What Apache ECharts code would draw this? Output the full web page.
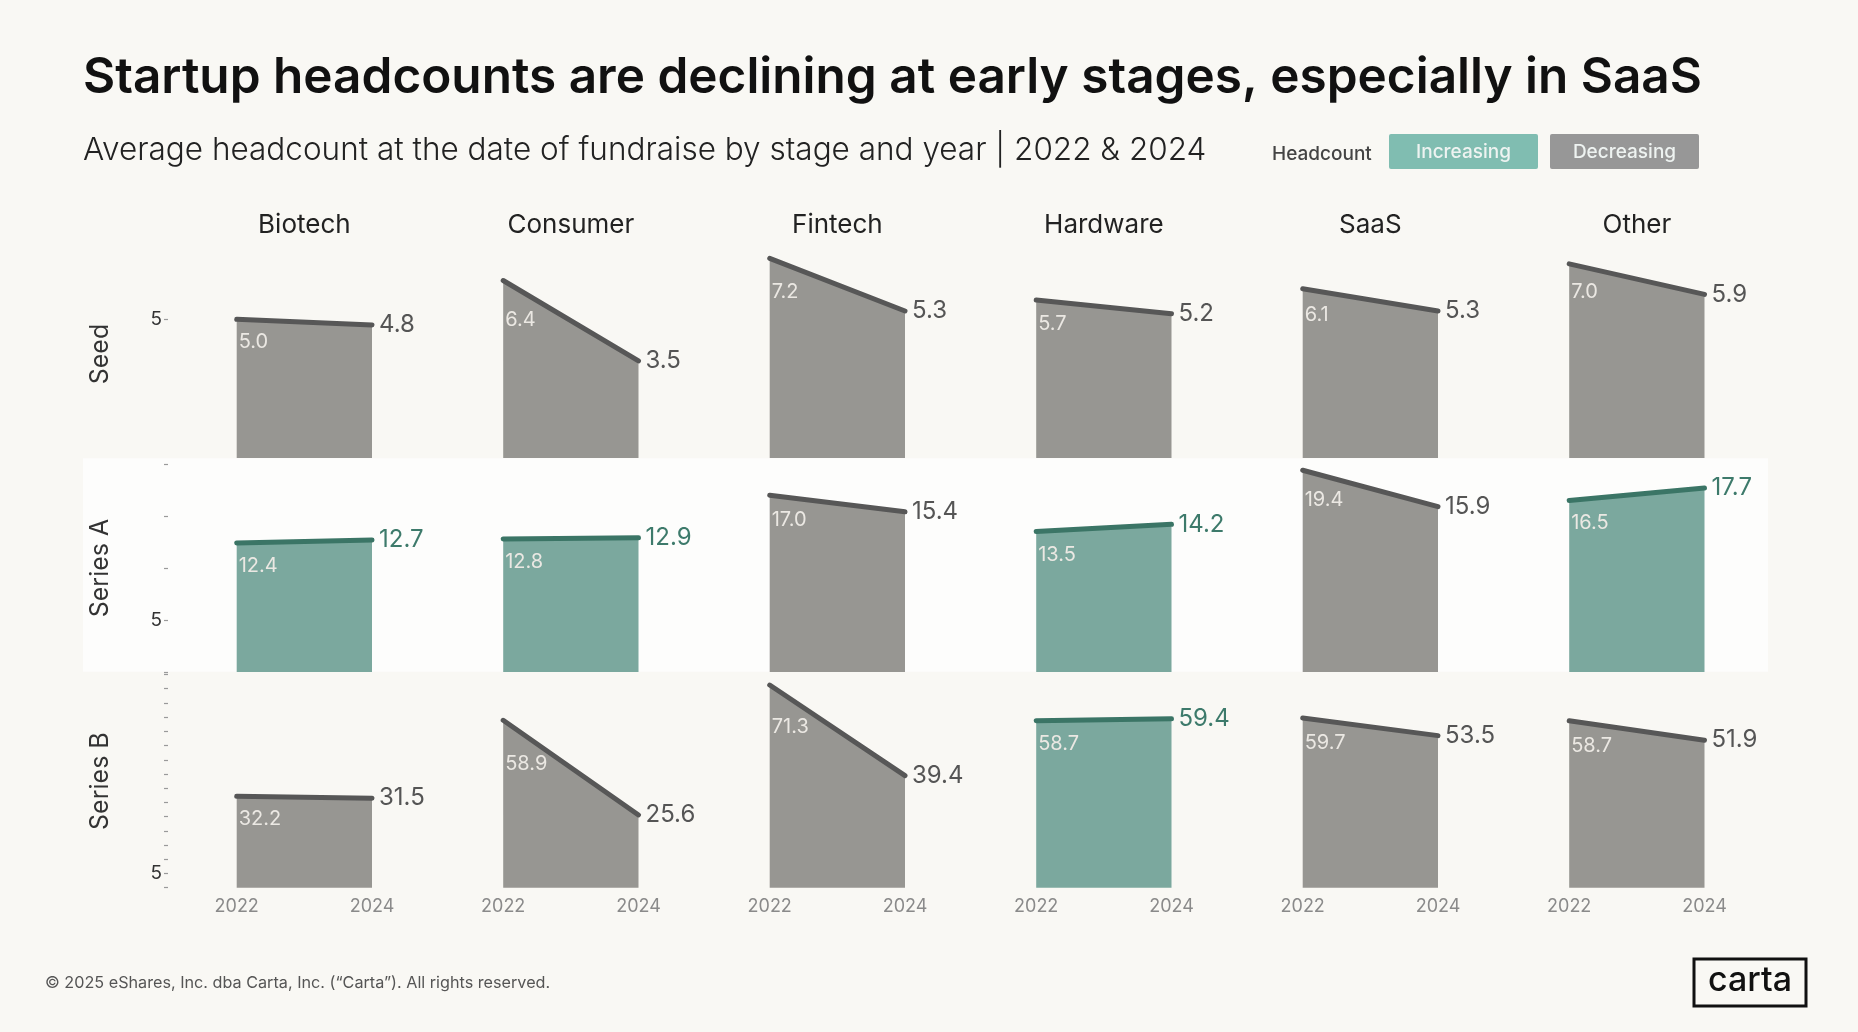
<!DOCTYPE html>
<html>
<head>
<meta charset="utf-8">
<script src="https://cdn.jsdelivr.net/npm/echarts@6/dist/echarts.min.js"></script>
<style>
  html, body { margin: 0; padding: 0; background: #f9f8f4; }
  #chart { width: 1858px; height: 1032px; }
</style>
</head>
<body>
<div id="chart"></div>
<script>
// data
const sectors = ['Biotech', 'Consumer', 'Fintech', 'Hardware', 'SaaS', 'Other'];
const stages = ['Seed', 'Series A', 'Series B'];
const years = ['2022', '2024'];
const seed2022 = [5.0, 6.4, 7.2, 5.7, 6.1, 7.0];
const seed2024 = [4.8, 3.5, 5.3, 5.2, 5.3, 5.9];
const seriesA2022 = [12.4, 12.8, 17.0, 13.5, 19.4, 16.5];
const seriesA2024 = [12.7, 12.9, 15.4, 14.2, 15.9, 17.7];
const seriesB2022 = [32.2, 58.9, 71.3, 58.7, 59.7, 58.7];
const seriesB2024 = [31.5, 25.6, 39.4, 59.4, 53.5, 51.9];
const yMax = [7.5, 20, 75];
const seedTicks = [5];
const seriesATicks = [0, 5, 10, 15, 20];
const seriesBTicks = [0, 5, 10, 15, 20, 25, 30, 35, 40, 45, 50, 55, 60, 65, 70, 75];
const yLabels = ['5'];

const rows2022 = [seed2022, seriesA2022, seriesB2022];
const rows2024 = [seed2024, seriesA2024, seriesB2024];
const rowTicks = [seedTicks, seriesATicks, seriesBTicks];

// layout
const FONT = 'Inter, "Noto Sans", sans-serif';
const colLeft = 236.7, colStep = 266.5, colW = 135.3;
const rowTop = [250, 464, 674.5];
const rowBottom = [458, 672, 887.7];

const GREY_FILL = '#979692', GREY_LINE = '#575757', GREY_TEXT = '#555555';
const TEAL_FILL = '#7ba89e', TEAL_LINE = '#3b7566', TEAL_TEXT = '#3d7a6b';

const grid = [], xAxis = [], yAxis = [], series = [];
const graphic = [];

// Series A band
graphic.push({
  type: 'rect', z: -10, silent: true,
  shape: { x: 83, y: 458.3, width: 1685, height: 213.5 },
  style: { fill: '#fdfdfc' }
});

stages.forEach((stage, r) => {
  const pxPerUnit = (rowBottom[r] - rowTop[r]) / yMax[r];
  sectors.forEach((sector, c) => {
    const k = r * 6 + c;
    const v0 = rows2022[r][c], v1 = rows2024[r][c];
    const up = v1 > v0;
    // push the 2022 label down when the line falls steeply
    const drop = (v0 - v1) * pxPerUnit;
    const extra = 0.24 * Math.max(0, drop - 10);
    grid.push({
      left: colLeft + c * colStep,
      width: colW,
      top: rowTop[r],
      height: rowBottom[r] - rowTop[r]
    });
    xAxis.push({
      type: 'category', gridIndex: k, data: years, boundaryGap: false,
      axisLine: { show: false }, axisTick: { show: false },
      axisLabel: {
        show: r === 2, interval: 0, margin: 10,
        fontFamily: FONT, fontSize: 18, color: '#8a8a8a'
      }
    });
    yAxis.push({
      type: 'value', gridIndex: k, min: 0, max: yMax[r], interval: 5,
      show: c === 0, offset: 68.7,
      axisLine: { show: false },
      splitLine: { show: false },
      axisTick: {
        show: true, length: 4, customValues: rowTicks[r],
        lineStyle: { color: '#9a9a9a', width: 1.2 }
      },
      axisLabel: {
        show: true, margin: 6, customValues: [5],
        formatter: v => (v === 5 ? yLabels[0] : ''),
        fontFamily: FONT, fontSize: 19, color: '#333'
      }
    });
    series.push({
      type: 'line', xAxisIndex: k, yAxisIndex: k,
      animation: false, silent: true,
      symbol: 'circle', symbolSize: 2, showSymbol: true,
      lineStyle: { width: 5, color: up ? TEAL_LINE : GREY_LINE, cap: 'round' },
      itemStyle: { color: up ? TEAL_LINE : GREY_LINE },
      areaStyle: { color: up ? TEAL_FILL : GREY_FILL, opacity: 1 },
      data: [
        {
          value: v0,
          label: {
            show: true, position: 'bottom', align: 'left', distance: 12, offset: [2, extra],
            formatter: p => p.value.toFixed(1),
            fontFamily: FONT, fontSize: 20, color: '#ebe8e3'
          }
        },
        {
          value: v1,
          label: {
            show: true, position: 'right', distance: 6,
            formatter: p => p.value.toFixed(1),
            fontFamily: FONT, fontSize: 24, color: up ? TEAL_TEXT : GREY_TEXT
          }
        }
      ]
    });
  });
  // row label
  graphic.push({
    type: 'text', rotation: Math.PI / 2,
    x: 100, y: (rowTop[r] + rowBottom[r]) / 2,
    style: {
      text: stage, font: '400 25px ' + FONT, fill: '#333',
      textAlign: 'center', textVerticalAlign: 'middle'
    }
  });
});

// column headers
sectors.forEach((s, c) => {
  graphic.push({
    type: 'text', x: colLeft + c * colStep + colW / 2, y: 225.5,
    style: {
      text: s, font: '400 26px ' + FONT, fill: '#222',
      textAlign: 'center', textVerticalAlign: 'middle'
    }
  });
});

// titles
graphic.push({
  type: 'text', x: 83, y: 78,
  style: {
    text: 'Startup headcounts are declining at early stages, especially in SaaS',
    font: '600 49.5px ' + FONT, fill: '#111', textVerticalAlign: 'middle'
  }
});
graphic.push({
  type: 'text', x: 83, y: 151,
  style: {
    text: 'Average headcount at the date of fundraise by stage and year | 2022 & 2024',
    font: '300 31.5px ' + FONT, fill: '#222', textVerticalAlign: 'middle'
  }
});

// legend
graphic.push({
  type: 'text', x: 1272, y: 154,
  style: { text: 'Headcount', font: '500 19px ' + FONT, fill: '#444', textVerticalAlign: 'middle' }
});
[['Increasing', '#80bdb1', 1389], ['Decreasing', '#979797', 1550]].forEach(([t, col, x]) => {
  graphic.push({
    type: 'rect', shape: { x: x, y: 134, width: 149, height: 35, r: 2 },
    style: { fill: col }
  });
  graphic.push({
    type: 'text', x: x + 74.5, y: 152,
    style: { text: t, font: '500 19px ' + FONT, fill: '#eef3f1', textAlign: 'center', textVerticalAlign: 'middle' }
  });
});

// footer
graphic.push({
  type: 'text', x: 45, y: 983.5,
  style: {
    text: '\u00A9 2025 eShares, Inc. dba Carta, Inc. (\u201CCarta\u201D). All rights reserved.',
    font: '400 16.2px ' + FONT, fill: '#555', textVerticalAlign: 'middle'
  }
});
// logo
graphic.push({
  type: 'rect', shape: { x: 1694, y: 959, width: 112, height: 47 },
  style: { fill: 'none', stroke: '#111', lineWidth: 3 }
});
graphic.push({
  type: 'text', x: 1750, y: 981,
  style: { text: 'carta', font: '500 34px ' + FONT, fill: '#111', textAlign: 'center', textVerticalAlign: 'middle' }
});

const chart = echarts.init(document.getElementById('chart'), null, { renderer: 'canvas' });
chart.setOption({
  backgroundColor: '#f9f8f4',
  animation: false,
  grid, xAxis, yAxis, series, graphic
});
</script>
</body>
</html>
